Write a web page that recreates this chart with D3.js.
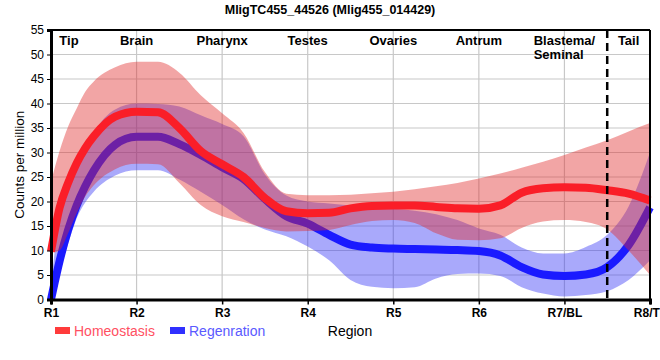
<!DOCTYPE html>
<html><head><meta charset="utf-8">
<script src="https://cdn.jsdelivr.net/npm/d3@7"></script>
<style>body{margin:0;background:#fff}svg{display:block;font-family:"Liberation Sans",Arial,sans-serif}</style>
</head><body><svg id="c" width="660" height="360"></svg>
<script>
const title = "MligTC455_44526 (Mlig455_014429)";
const regions = ["R1","R2","R3","R4","R5","R6","R7/BL","R8/TL"];
const sections = ["Tip","Brain","Pharynx","Testes","Ovaries","Antrum","Blastema/|Seminal","Tail"];
const sectionAt = [0.21,1,2,3,4,5,6,6.75];
const boundaryAt = 6.5;
const yTicks = [0,5,10,15,20,25,30,35,40,45,50,55];
const positions = [0,0.1,0.2,0.3,0.4,0.5,0.75,1,1.25,1.5,1.75,2,2.25,2.5,2.75,3,3.25,3.5,3.75,4,4.25,4.5,4.75,5,5.25,5.5,5.75,6,6.25,6.5,6.75,7];
const homeostasis      = [9.8,18.7,23.8,27.8,30.9,33.3,37.3,38.3,38.2,35,30.3,27.6,25,20.7,18,17.6,17.7,18.6,19.1,19.2,19.2,18.9,18.6,18.5,19.2,21.8,22.7,22.9,22.8,22.3,21.6,20.2];
const homeostasisUpper = [24,30.3,35.3,39,42.4,44.5,47.4,48.5,48.5,46.3,41.7,38,34,26,21.6,21.3,21.3,21.4,21.7,22,22.5,23.1,23.8,24.7,25.7,26.9,28.1,29.5,31,32.5,34.3,36];
const homeostasisLower = [9.5,10,13.5,17.6,21,23.3,26.6,27.7,27.6,23.8,19.3,17,15.8,14.6,13.9,14,14.2,15.2,16,16.2,15.6,13.5,12.2,12.1,12.5,14.6,15.9,16.2,15.8,14.3,10,5];
const regeneration      = [0,7.8,14.2,19.2,23.1,26.3,31.6,33.2,33.2,31.7,29.5,27,24.6,20.5,17,15.5,13.2,11.2,10.6,10.4,10.3,10.2,10.1,9.9,9,6.6,5.1,4.8,5.1,6.6,11.1,18.8];
const regenerationUpper = [3,17,22.5,27,30.5,34,38.8,40,39.9,39.4,37.6,35.8,33.3,25.5,21.2,20,19.6,19.2,18.8,18.5,18.1,17.4,16.2,14.5,13.2,10.6,9.4,9.4,10.7,13.2,19,30];
const regenerationLower = [0,5.8,11.4,16.6,19.8,22,25.3,26.4,26.4,24.5,22,19.3,16.4,14.3,12.9,10.8,8,4,2.6,2.3,2.5,4.3,5.2,5.3,4.8,2.5,1.2,0.6,0.9,1.7,4,8];

const svg = d3.select("#c");
const x = d3.scaleLinear().domain([0,7]).range([51,650]);
const y = d3.scaleLinear().domain([0,55]).range([299.5,30]);

// grid
svg.append("g").selectAll("line").data(yTicks).join("line")
  .attr("x1",x(0)).attr("x2",x(7)).attr("y1",d=>y(d)).attr("y2",d=>y(d))
  .attr("stroke","#c8c8c8").attr("stroke-width",1.2);
svg.append("g").selectAll("line").data(regions.map((r,i)=>i)).join("line")
  .attr("x1",d=>x(d)).attr("x2",d=>x(d)).attr("y1",y(0)).attr("y2",y(55))
  .attr("stroke","#c8c8c8").attr("stroke-width",1.2);

const rows = (mid, lo, hi) => positions.map((p,i)=>({p, m:mid[i], lo:lo[i], hi:hi[i]}));
const area = d3.area().x(d=>x(d.p)).y0(d=>y(d.lo)).y1(d=>y(d.hi)).curve(d3.curveMonotoneX);
const line = d3.line().x(d=>x(d.p)).y(d=>y(d.m)).curve(d3.curveMonotoneX);
const H = rows(homeostasis, homeostasisLower, homeostasisUpper);
const R = rows(regeneration, regenerationLower, regenerationUpper);

svg.append("path").datum(R).attr("d",area).attr("fill","rgb(50,50,245)").attr("fill-opacity",0.42);
svg.append("path").datum(R).attr("d",line).attr("fill","none").attr("stroke","#1a1aff").attr("stroke-width",8);
svg.append("path").datum(H).attr("d",area).attr("fill","rgb(225,40,40)").attr("fill-opacity",0.42);
svg.append("path").datum(H).attr("d",line).attr("fill","none").attr("stroke","#fa1e28").attr("stroke-width",8);

// frame
svg.append("line").attr("x1",x(0)).attr("x2",x(7)).attr("y1",y(55)).attr("y2",y(55)).attr("stroke","#000").attr("stroke-width",2);
svg.append("line").attr("x1",x(7)).attr("x2",x(7)).attr("y1",y(55)).attr("y2",y(0)).attr("stroke","#000").attr("stroke-width",2);

// dashed boundary
svg.append("line").attr("x1",x(boundaryAt)).attr("x2",x(boundaryAt)).attr("y1",y(55)).attr("y2",y(0))
  .attr("stroke","#000").attr("stroke-width",2.5).attr("stroke-dasharray","8,5");

// axes
const xa = svg.append("g").attr("transform",`translate(0,${y(0)})`)
  .call(d3.axisBottom(x).tickValues(d3.range(regions.length)).tickFormat(i=>regions[i]).tickSize(5).tickPadding(4));
xa.select(".domain").attr("stroke-width",3);
xa.selectAll(".tick line").attr("stroke-width",1.5);
xa.selectAll("text").attr("font-size",12).attr("font-weight","bold").attr("fill","#000").attr("font-family","Liberation Sans, Arial");
const ya = svg.append("g").attr("transform",`translate(${x(0)},0)`)
  .call(d3.axisLeft(y).tickValues(yTicks).tickSize(4).tickPadding(3));
ya.select(".domain").attr("stroke-width",3);
ya.selectAll("text").attr("font-size",12).attr("fill","#000").attr("font-family","Liberation Sans, Arial");

// section labels
sections.forEach((s,i)=>{
  const parts = s.split("|");
  const t = svg.append("text").attr("font-size",13).attr("font-weight","bold").attr("fill","#000");
  if(parts.length===1){
    t.attr("x",x(sectionAt[i])).attr("y",45).attr("text-anchor","middle").text(s);
  } else {
    t.attr("y",45).attr("x",x(sectionAt[i])).attr("text-anchor","middle").text(parts[0]);
    const w = t.node().getComputedTextLength();
    svg.append("text").attr("font-size",13).attr("font-weight","bold").attr("fill","#000")
      .attr("x",x(sectionAt[i]) - w/2).attr("y",59).text(parts[1]);
  }
});

// title
svg.append("text").attr("x",330).attr("y",14).attr("text-anchor","middle")
  .attr("font-size",12.5).attr("font-weight","bold").text(title);

// axis titles
svg.append("text").attr("transform",`translate(24,${(y(0)+y(55))/2}) rotate(-90)`)
  .attr("text-anchor","middle").attr("font-size",13.5).text("Counts per million");
svg.append("text").attr("x",350).attr("y",336).attr("text-anchor","middle").attr("font-size",14).text("Region");

// legend
const legend = [{name:"Homeostasis", sw:"#ff3b3b", tc:"#ff5062", x:55},{name:"Regenration", sw:"#3030ff", tc:"#5a5aff", x:170}];
legend.forEach(l=>{
  svg.append("rect").attr("x",l.x).attr("y",327).attr("width",15).attr("height",7).attr("fill",l.sw);
  svg.append("text").attr("x",l.x+19).attr("y",336).attr("font-size",14).attr("fill",l.tc).text(l.name);
});
</script></body></html>
